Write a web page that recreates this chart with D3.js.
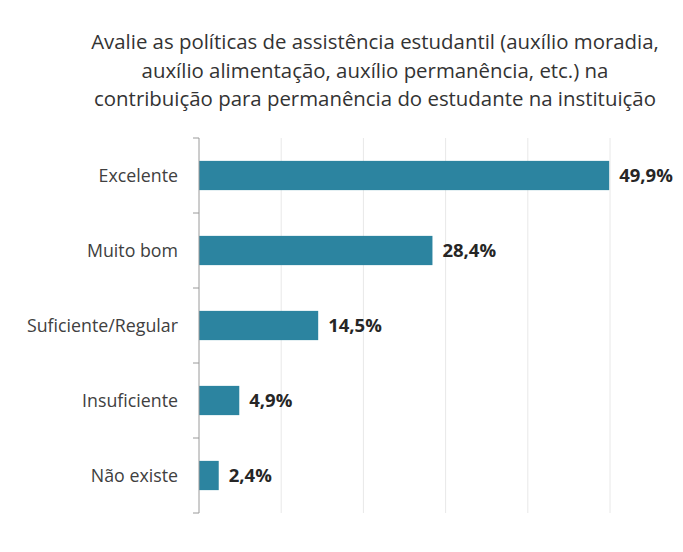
<!DOCTYPE html>
<html>
<head>
<meta charset="utf-8">
<script src="https://cdn.jsdelivr.net/npm/d3@7"></script>
<style>
  html, body { margin: 0; padding: 0; background: #fff; }
  svg { display: block; }
</style>
</head>
<body>
<svg id="chart" width="683" height="552"></svg>
<script>
// Survey answers and their shares (%)
const categories = ["Excelente", "Muito bom", "Suficiente/Regular", "Insuficiente", "Não existe"];
const values = [49.9, 28.4, 14.5, 4.9, 2.4];
const valueLabels = ["49,9%", "28,4%", "14,5%", "4,9%", "2,4%"];
const gridTicks = [10, 20, 30, 40, 50];
const titleLines = [
  "Avalie as políticas de assistência estudantil (auxílio moradia,",
  "auxílio alimentação, auxílio permanência, etc.) na",
  "contribuição para permanência do estudante na instituição"
];

const font = "'Open Sans', Lato, sans-serif";
const svg = d3.select("#chart");

const margin = { left: 199, right: 73, top: 138, bottom: 39 };
const width = 683 - margin.left - margin.right;
const height = 552 - margin.top - margin.bottom;

const x = d3.scaleLinear().domain([0, 50]).range([0, width]);
const y = d3.scaleBand().domain(categories).range([0, height]).paddingInner(0.61).paddingOuter(0.305);

// Title
svg.append("g")
  .selectAll("text")
  .data(titleLines)
  .join("text")
  .attr("x", 375)
  .attr("y", (d, i) => 49 + i * 28.5)
  .attr("text-anchor", "middle")
  .attr("font-family", font)
  .attr("font-size", 20.4)
  .attr("fill", "#333")
  .text(d => d);

const g = svg.append("g").attr("transform", `translate(${margin.left},${margin.top})`);

// Vertical gridlines
g.append("g")
  .selectAll("line")
  .data(gridTicks)
  .join("line")
  .attr("x1", d => x(d)).attr("x2", d => x(d))
  .attr("y1", 0).attr("y2", height)
  .attr("stroke", "#e8e8e8")
  .attr("stroke-width", 1);

// Bars
g.append("g")
  .selectAll("rect")
  .data(values)
  .join("rect")
  .attr("x", 0)
  .attr("y", (d, i) => y(categories[i]))
  .attr("width", d => x(d))
  .attr("height", y.bandwidth())
  .attr("fill", "#2c84a0");

// Value labels
g.append("g")
  .selectAll("text")
  .data(values)
  .join("text")
  .attr("x", d => x(d) + 10)
  .attr("y", (d, i) => y(categories[i]) + y.bandwidth() / 2)
  .attr("dy", "0.35em")
  .attr("font-family", font)
  .attr("font-size", 18.5)
  .attr("font-weight", "bold")
  .attr("fill", "#262626")
  .text((d, i) => valueLabels[i]);

// Category axis with ticks at band boundaries
const step = y.step();
const boundaries = d3.range(categories.length + 1).map(i => i * step);
const axisG = g.append("g");
axisG.append("line")
  .attr("x1", 0).attr("x2", 0)
  .attr("y1", 0).attr("y2", height)
  .attr("stroke", "#9a9a9a");
axisG.selectAll("line.tick")
  .data(boundaries)
  .join("line")
  .attr("class", "tick")
  .attr("x1", -6).attr("x2", 0)
  .attr("y1", d => d).attr("y2", d => d)
  .attr("stroke", "#9a9a9a");
axisG.selectAll("text")
  .data(categories)
  .join("text")
  .attr("x", -21)
  .attr("y", d => y(d) + y.bandwidth() / 2)
  .attr("dy", "0.35em")
  .attr("text-anchor", "end")
  .attr("font-family", font)
  .attr("font-size", 17.8)
  .attr("fill", "#404040")
  .text(d => d);
</script>
</body>
</html>
